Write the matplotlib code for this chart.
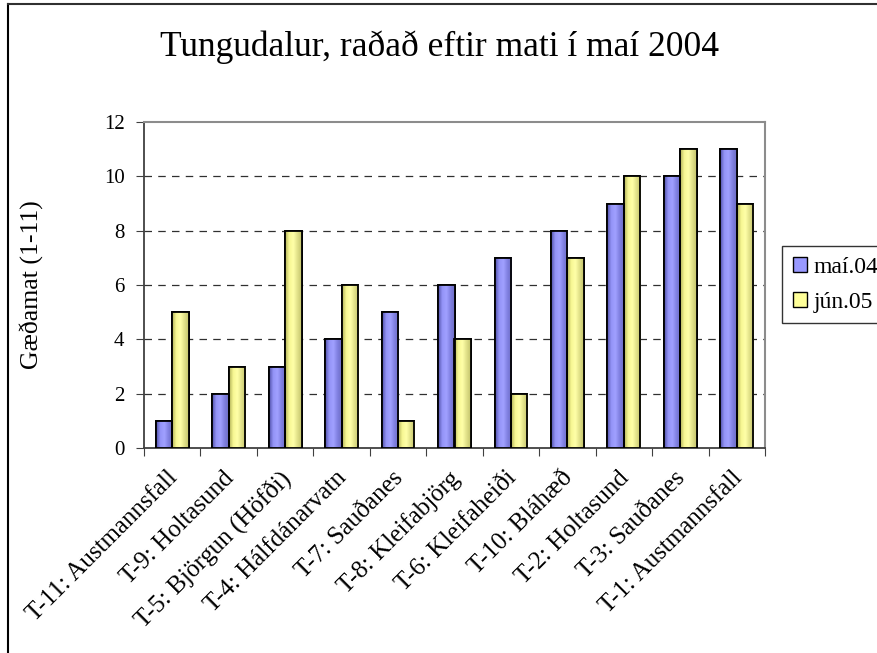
import numpy as np
import matplotlib
matplotlib.use("Agg")
import matplotlib.pyplot as plt
from matplotlib.colors import LinearSegmentedColormap
from matplotlib.lines import Line2D
from matplotlib.patches import Rectangle
from matplotlib.transforms import ScaledTranslation

categories = ["T-11: Austmannsfall", "T-9: Holtasund", "T-5: Björgun (Höfði)",
              "T-4: Hálfdánarvatn", "T-7: Sauðanes", "T-8: Kleifabjörg",
              "T-6: Kleifaheiði", "T-10: Bláhæð", "T-2: Holtasund",
              "T-3: Sauðanes", "T-1: Austmannsfall"]
mai04 = [1, 2, 3, 4, 5, 6, 7, 8, 9, 10, 11]
jun05 = [5, 3, 8, 6, 1, 4, 2, 7, 10, 11, 9]
series_names = ["maí.04", "jún.05"]
yticks = [0, 2, 4, 6, 8, 10, 12]

plt.rcParams['font.family'] = ['Liberation Serif', 'DejaVu Serif']

fig = plt.figure(figsize=(8.78, 6.53), dpi=100)
ax = fig.add_axes([144/878, 1-448/653, (765-144)/878, (448-122)/653])

x = np.arange(len(categories))
w = 0.29
blue_cmap = LinearSegmentedColormap.from_list("b", ["#5050a8", "#9494f8", "#a0a0ff", "#8080e0", "#6c6cc4"])
yel_cmap = LinearSegmentedColormap.from_list("y", ["#b0b058", "#f8f894", "#ffffa8", "#e0e088", "#c4c46c"])
grad = np.linspace(0, 1, 64).reshape(1, -1)

for vals, off, cmap, face in [(mai04, -w/2, blue_cmap, "#9999ff"), (jun05, w/2, yel_cmap, "#ffff99")]:
    bars = ax.bar(x + off, vals, width=w, color=face, edgecolor="black", linewidth=1.3, zorder=3)
    for b in bars:
        bx, by = b.get_x(), b.get_y()
        bw, bh = b.get_width(), b.get_height()
        im = ax.imshow(grad, cmap=cmap, aspect='auto', extent=[bx, bx+bw, by, by+bh],
                       zorder=3.5, interpolation='bilinear')
        im.set_clip_path(b)
        ax.add_patch(Rectangle((bx, by), bw, bh, fill=False, edgecolor="black", linewidth=1.3, zorder=4))

ax.set_xlim(-0.5, len(categories) - 0.5)
ax.set_ylim(0, 12)
ax.set_yticks(yticks)
ax.set_yticklabels([str(t) for t in yticks], fontsize=15)
ax.set_xticks(np.arange(len(categories) + 1) - 0.5)
ax.set_xticklabels([])
ax.tick_params(axis='x', which='major', length=6, direction='out', color='#404040')
ax.tick_params(axis='y', length=6, direction='out', color='#404040', pad=8)

# category labels, rotated 45 degrees
lab_off = ScaledTranslation(-6/100, -19/100, fig.dpi_scale_trans)
for xi, cat in zip(x, categories):
    ax.text(xi, 0, cat, transform=ax.get_xaxis_transform() + lab_off,
            rotation=45, ha='right', va='top', rotation_mode='anchor', fontsize=18)

for t in yticks[1:-1]:
    ax.axhline(t, color='#303030', linestyle=(0, (6, 5)), linewidth=0.9, zorder=1)
ax.set_axisbelow(True)

for s in ['top', 'right']:
    ax.spines[s].set_color('#8c8c8c')
    ax.spines[s].set_linewidth(1.5)
for s in ['left', 'bottom']:
    ax.spines[s].set_color('#404040')
    ax.spines[s].set_linewidth(1.3)

fig.text(32/878, 1-285/653, "Gæðamat (1-11)", rotation=90, ha='center', va='center', fontsize=18.5)

fig.text(440/878, 1-47/653, "Tungudalur, raðað eftir mati í maí 2004", ha='center', va='center', fontsize=25.5)

# legend
handles = [Rectangle((0, 0), 1, 1, facecolor="#9999ff", edgecolor="black"),
           Rectangle((0, 0), 1, 1, facecolor="#ffff99", edgecolor="black")]
leg = fig.legend(handles, series_names, loc='upper left',
                 bbox_to_anchor=(782/878, 1-320/653, 0.2, 74/653), mode='expand',
                 fontsize=17, frameon=True, fancybox=False, edgecolor='black',
                 handlelength=0.6, handleheight=0.6, handletextpad=0.3, borderpad=0.45,
                 labelspacing=0.6, borderaxespad=0)
leg.get_frame().set_linewidth(1.0)

# outer chart border (top and left visible)
fig.add_artist(Line2D([8/878, 8/878], [0, 1-4/653], transform=fig.transFigure, color='black', linewidth=1.5))
fig.add_artist(Line2D([8/878, 1], [1-4/653, 1-4/653], transform=fig.transFigure, color='#303030', linewidth=1.5))

fig.savefig("out.png", dpi=100)
